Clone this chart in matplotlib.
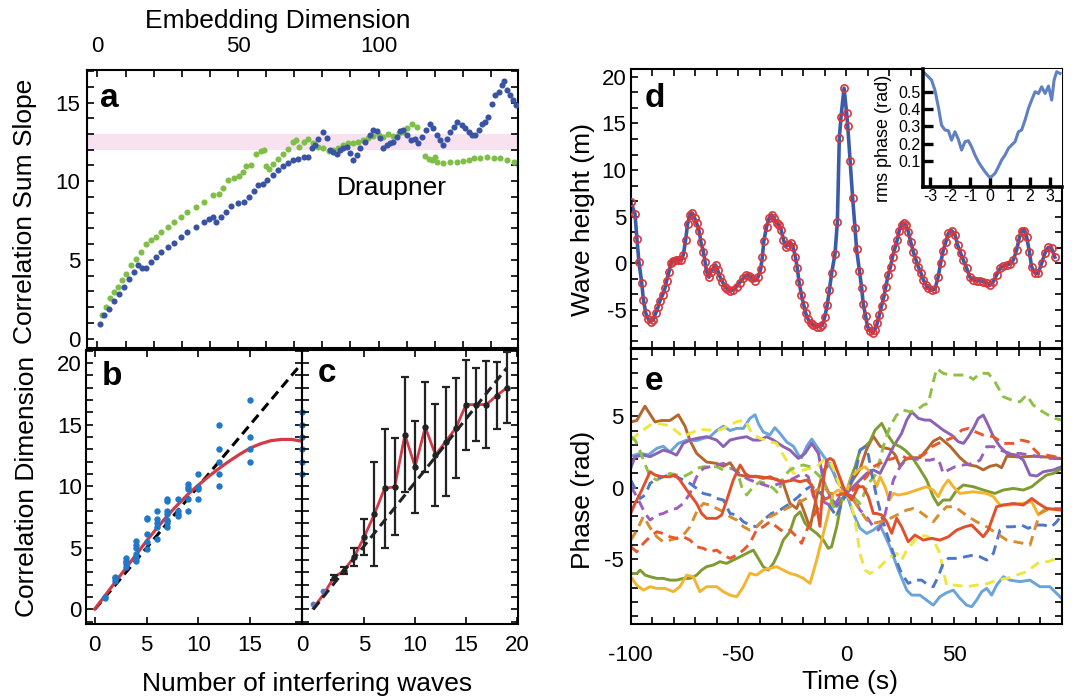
import matplotlib

matplotlib.use("Agg")
import matplotlib.pyplot as plt
from matplotlib.ticker import MultipleLocator, FixedLocator

plt.rcParams["font.family"] = ["Liberation Sans", "DejaVu Sans"]
plt.rcParams["axes.unicode_minus"] = False

# ---------------- panel a: correlation sum slope vs embedding dimension
a_blue_dim = [0.9, 2.4, 4.2, 6.0, 7.8, 9.5, 11.3, 13.1, 14.6, 16.0, 17.3, 19.0, 20.8, 22.6, 25.0, 27.3, 29.7, 32.0,
              35.0, 38.0, 39.8, 41.0, 42.2, 44.0, 45.7, 47.5, 49.9, 52.2, 54.0, 55.8, 57.0, 58.8, 60.5, 62.3, 64.1,
              65.9, 67.7, 69.4, 71.2, 73.6,
              75.0, 76.2, 77.4, 78.6, 80.4, 81.6, 82.7, 83.9, 85.1, 86.3, 87.5, 88.7, 89.9, 91.0, 92.2, 93.4, 95.2,
              97.0, 98.2, 99.6, 100.6, 101.7, 102.9, 104.1, 105.3, 106.5, 107.7, 108.8, 110.0, 111.5, 113.0, 114.2,
              115.4, 116.9, 118.3, 119.5, 120.7, 121.9, 123.1, 124.3, 125.5, 126.7, 127.8, 129.6, 130.8, 132.0,
              133.2, 134.4, 135.6, 136.7, 137.9, 139.1, 140.3, 141.5, 142.7, 143.9, 144.7, 145.7, 146.8, 147.8, 149.0]
a_blue_slope = [0.95, 1.5, 1.9, 2.4, 2.86, 3.3, 3.8, 4.2, 4.66, 4.5, 4.5, 4.87, 5.18, 5.5, 5.8, 6.1, 6.45, 6.78,
                7.1, 7.4, 7.6, 7.7, 7.4, 7.75, 8.05, 8.4, 8.6, 8.7, 9.0, 9.4, 9.75, 9.85, 10.05, 10.4, 10.7, 10.95,
                11.17, 11.34, 11.44, 11.55,
                11.55, 12.08, 12.29, 12.71, 13.1, 12.77, 11.97, 11.87, 11.76, 11.97, 12.08, 12.18, 11.8, 11.33, 11.65,
                12.08, 12.5, 12.92, 13.28, 13.2, 12.77, 12.08, 12.29, 12.4, 12.5, 12.82, 13.2, 13.28, 12.92, 12.6,
                12.71, 12.4, 12.82, 13.24, 13.66, 13.35, 12.92, 12.6, 12.29, 12.71, 13.13, 13.45, 13.77, 13.56, 13.35,
                13.13, 12.92, 12.92, 13.24, 13.66, 13.77, 14.08, 14.93, 15.46, 15.68, 16.1, 16.38, 15.79, 15.46,
                15.15, 14.83]
a_green_dim = [1.6, 3.0, 4.4, 6.0, 7.2, 8.7, 10.1, 11.9, 13.7, 15.5, 17.3, 19.0, 20.8, 22.6, 25.0, 27.3, 29.7, 32.0,
               35.0, 38.0, 41.0, 43.3, 44.5, 46.3, 48.7, 50.5, 51.7, 52.8, 54.6, 56.4, 58.2, 59.4, 60.0, 61.1, 62.3,
               64.1, 65.9, 67.7, 69.4, 70.6, 71.8, 73.6,
               75.0, 76.8, 78.6, 80.4, 82.2, 83.9, 85.7, 87.5, 89.3, 91.0, 92.8, 94.6, 96.4, 98.2, 100.0, 101.7,
               103.5, 105.3, 107.1, 108.8, 110.0, 111.8, 113.6, 116.6, 117.8, 119.0, 120.1, 120.7, 123.1, 125.5,
               127.8, 130.2, 132.0, 133.8, 136.1, 138.5, 140.9, 143.3, 145.7, 148.0, 149.8]
a_green_slope = [1.49, 2.0, 2.55, 2.97, 3.28, 3.7, 4.13, 4.66, 5.08, 5.5, 6.0, 6.25, 6.45, 6.78, 7.1, 7.42, 7.74,
                 8.05, 8.37, 8.7, 9.1, 9.2, 9.55, 10.06, 10.18, 10.3, 10.6, 10.95, 11.0, 11.7, 11.93, 11.97, 10.95,
                 10.8, 11.1, 11.44, 11.76, 12.07, 12.5, 12.6, 12.15, 12.5,
                 12.71, 12.4, 12.18, 12.08, 11.93, 11.97, 12.14, 12.29, 12.4, 12.44, 12.5, 12.6, 12.77, 12.86, 12.92,
                 12.82, 13.03, 12.86, 13.07, 13.13, 13.35, 13.66, 13.45, 11.59, 11.44, 11.33, 11.55, 11.23, 11.16,
                 11.23, 11.23, 11.27, 11.33, 11.48, 11.5, 11.55, 11.5, 11.5, 11.37, 11.23, 10.95]
a_band = [12.0, 13.0]

# ---------------- panel b: correlation dimension vs number of waves
b_n = [1, 1, 2, 2, 2, 3, 3, 3, 3, 3, 4, 4, 4, 4, 4, 4, 5, 5, 5, 5, 5, 6, 6, 6, 6, 6, 7, 7, 7, 7, 7, 7, 7,
       8, 8, 8, 8, 9, 9, 9, 9, 9, 10, 10, 10, 10, 12, 12, 12, 12, 12, 15, 15, 15, 15, 20, 20, 20, 20, 20, 20]
b_dim = [1.03, 0.93, 2.67, 2.56, 2.34, 4.19, 3.97, 3.84, 3.65, 3.43, 5.52, 5.25, 5.01, 4.52, 4.19, 3.97,
         7.46, 7.32, 6.15, 5.47, 4.93, 7.97, 7.37, 7.02, 6.69, 5.74, 8.95, 8.79, 7.97, 7.78, 7.24, 7.02, 6.69,
         8.95, 7.97, 7.78, 7.56, 10.18, 9.96, 9.74, 8.95, 7.97, 10.97, 9.96, 9.74, 8.95,
         15.0, 13.0, 12.0, 11.0, 10.0, 17.0, 14.0, 13.0, 12.0, 16.0, 15.0, 14.0, 13.0, 12.0, 11.0]
b_fit_n = [0, 1, 2, 3, 4, 5, 6, 7, 8, 9, 10, 11, 12, 13, 14, 15, 16, 17, 18, 19, 20]
b_fit_dim = [0.03, 1.13, 2.24, 3.35, 4.45, 5.56, 6.6, 7.6, 8.5, 9.35, 10.1, 10.8, 11.45, 12.05, 12.6, 13.1,
             13.45, 13.7, 13.8, 13.8, 13.65]
b_ref_n = [0, 20]
b_ref_dim = [0, 20]

# ---------------- panel c: mean correlation dimension with error bars
c_n = list(range(20))
c_mean = [0.44, 1.52, 2.56, 3.16, 4.24, 5.88, 7.73, 9.82, 9.96, 14.18, 11.59, 14.8, 12.54, 13.63, 14.72,
          16.63, 16.63, 16.63, 17.36, 17.99]
c_err = [0, 0, 0.2, 0.3, 0.72, 1.5, 4.24, 4.8, 3.92, 4.65, 3.74, 3.63, 4.12, 4.42, 4.08, 3.65, 2.95, 3.5,
         2.72, 2.88]
c_fit = [0.1, 1.2, 2.56, 3.16, 4.24, 5.88, 7.73, 9.82, 9.96, 14.18, 11.59, 14.8, 12.54, 13.63, 14.72,
         16.63, 16.63, 16.63, 17.36, 17.99]
c_ref_n = [0, 19]
c_ref_dim = [0, 19.6]

# ---------------- panel d: wave height time series
d_time = [-100, -98, -97.1, -96.2, -94.9, -94.1, -93, -91.8, -90.6, -89.5, -88.4, -87.2, -86.4, -85.2, -84.1,
          -83.3, -82.2, -81.4, -80.2, -79, -77.9, -76.8, -75.6, -74.5, -73.6, -72.5, -71.4, -70.3, -69.4, -68.3,
          -67.4, -66.3, -65.5, -64.8, -63.7, -62.8, -61.7, -60.6, -59.7, -58.6, -57.5, -56.3, -55.1, -53.7, -52.5,
          -50.9, -49.4, -47.8, -46.3, -45, -43.6, -42.1, -40.8, -39.7, -38.9, -38.2, -36.9, -35.8, -34.6, -33.5,
          -32.3, -31.2, -30.2, -29.1, -28.1, -27, -25.8, -24.7, -23.6, -22.7, -21.9, -20.8, -19.7, -18.8, -17.6,
          -16.5, -15.3, -13.7, -12.2, -11, -9.9, -8.8, -7.8, -6.7, -5.2, -4.1, -3.2, -2.4, -1, 0.2, 0.7, 1.8, 3,
          4.1, 4.8, 6.1, 7.2, 7.9, 9, 9.9, 11, 12.3, 13.3, 14.4, 15.4, 16.4, 17.5, 18.4, 19.5, 20.6, 21.5, 22.6,
          23.7, 24.6, 25.7, 26.8, 27.7, 28.8, 29.9, 31.1, 32.4, 33.4, 34.7, 35.8, 37, 38.1, 39.6, 41.2, 42.7,
          43.8, 45, 46.3, 47.4, 48.9, 50.5, 51.7, 53.1, 54.3, 55.9, 57.4, 59, 60.5, 62.1, 63.6, 65.2, 66.7, 68.3,
          69.8, 71.4, 72.9, 74.5, 76, 77.6, 79.1, 80.3, 81.4, 82.5, 83.7, 85, 86, 87.6, 89.1, 90.7, 92.2, 93.8,
          95.3, 96.8]
d_height = [6.63, 5.3, 2.6, 0.2, -2.05, -3.9, -5.34, -6.0, -6.23, -6.05, -5.34, -4.63, -3.98, -3.38, -2.66,
            -1.84, -0.88, 0.0, 0.27, 0.38, 0.38, 0.38, 0.9, 2.52, 4.23, 5.2, 5.38, 4.84, 4.3, 3.52, 2.27, 1.27,
            0.2, -0.88, -1.48, -0.88, -0.52, -0.16, -0.7, -1.41, -1.95, -2.48, -2.77, -2.95, -2.84, -2.48, -2.05,
            -1.59, -1.23, -1.34, -1.59, -1.84, -1.41, -0.63, 0.73, 2.45, 3.95, 4.84, 5.2, 4.84, 4.3, 4.13, 3.59,
            2.52, 1.8, 1.98, 2.23, 1.8, 0.73, -0.52, -1.95, -3.38, -4.45, -5.34, -6.0, -6.41, -6.59, -6.77, -6.77,
            -6.59, -5.7, -4.45, -2.84, -0.98, 1.02, 4.41, 13.4, 15.74, 18.78, 16.1, 14.77, 10.98, 6.98, 3.77,
            1.55, -0.77, -2.66, -4.34, -5.63, -6.77, -7.2, -7.41, -7.13, -6.41, -5.52, -4.56, -3.56, -2.48, -1.23,
            -0.34, 0.73, 1.63, 2.52, 3.52, 4.13, 4.3, 4.13, 3.41, 2.34, 1.27, 0.38, -0.34, -1.05, -1.77, -2.3,
            -2.66, -2.84, -2.77, -1.41, 0.0, 1.38, 2.34, 3.24, 3.52, 3.06, 1.98, 1.09, 0.38, -0.52, -1.48, -1.77,
            -1.84, -1.88, -1.95, -2.13, -2.3, -1.95, -1.23, -0.52, -0.27, -0.16, -0.05, 0.38, 1.45, 2.7, 3.52,
            3.52, 2.88, 1.27, -0.34, -1.05, -1.05, 0.0, 1.09, 1.73, 1.63, 0.66]

# inset: rms phase
inset_phase = [-3.25, -3.08, -2.92, -2.75, -2.58, -2.42, -2.25, -2.08, -1.92, -1.75, -1.58, -1.42, -1.25, -1.08,
               -0.92, -0.75, -0.58, -0.42, -0.25, -0.08, 0.03, 0.25, 0.42, 0.58, 0.75, 0.92, 1.08, 1.25, 1.42,
               1.58, 1.75, 1.92, 2.08, 2.25, 2.42, 2.58, 2.75, 2.92, 3.08, 3.2, 3.33, 3.5]
inset_rms = [0.606, 0.587, 0.568, 0.51, 0.413, 0.307, 0.279, 0.275, 0.22, 0.269, 0.225, 0.163, 0.211, 0.217,
             0.182, 0.134, 0.095, 0.066, 0.038, 0.013, 0.005, 0.028, 0.066, 0.105, 0.134, 0.173, 0.192, 0.211,
             0.269, 0.279, 0.336, 0.404, 0.452, 0.5, 0.49, 0.529, 0.49, 0.533, 0.452, 0.568, 0.616, 0.606]

# ---------------- panel e: phases of the component waves
e_brown_t = [-100, -97.2, -93.4, -88.7, -85.7, -81.8, -77.9, -74.8, -72.5, -69.4, -64.8, -60.1, -57, -53.9, -50,
             -46.2, -41.6, -37, -32.3, -29.2, -26.1, -23, -21.5, -19.2, -16.8, -13.7, -10.6, -7.5, -4.4, 0, 3.3,
             6.4, 9.5, 12.6, 15.7, 17.3, 20.3, 22.7, 25, 27.3, 29.6, 34.2, 38.1, 40.4, 43.5, 48.2, 52.8, 56.7,
             60.5, 63.6, 66.7, 69.8, 72.1, 74.5, 80.6, 86.8, 93, 99.2]
e_brown_v = [4.6, 4.7, 5.7, 4.6, 4.7, 4.7, 5.1, 4.3, 3.3, 2.4, 1.8, 1.7, 1.5, 1.75, 0.9, 0.8, 0.8, 0.7, 0.6, 0.3,
             -1.1, -1.45, -0.9, -1.8, -2.8, -0.6, 1.2, 1.7, 0.5, -0.4, 0.6, 1.3, 2.7, 3.6, 2.9, 2.8, 2.7, 2.3,
             1.5, 1.95, 2.1, 2.1, 2.8, 3.25, 3.5, 2.9, 2.1, 1.6, 1.5, 1.25, 1.5, 1.6, 1.4, 2.2, 2.15, 2.2, 2.15,
             2.05]
e_lblue_t = [-100, -95.6, -91.8, -87.9, -84.9, -81.8, -77.9, -74, -69.4, -66.3, -63.2, -60.1, -57, -53.9, -50.8,
             -47.7, -44.7, -42.3, -40.8, -38.5, -35.4, -33.1, -30.7, -27.6, -24.5, -22.2, -20.7, -18.3, -16,
             -13.7, -11.4, -9.1, -6, -3.7, -2.1, 0, 3.3, 6.4, 9.5, 12.6, 15.7, 20.3, 24.2, 28.1, 30.4, 34.2, 37.3,
             40.4, 43.5, 46.6, 49.7, 52.8, 55.9, 58.2, 60.5, 62.9, 65.2, 67.5, 69.8, 72.9, 75.9, 80.6, 85.2, 89.9,
             94.5, 100]
e_lblue_v = [2.2, 2.4, 2.3, 2.75, 2.9, 2.5, 3.1, 3.33, 3.3, 3.45, 3.57, 4.0, 4.3, 4.0, 4.15, 4.15, 4.85, 5.1,
             4.5, 3.9, 3.7, 4.2, 3.8, 3.2, 2.9, 2.3, 2.1, 2.9, 3.4, 2.9, 2.4, 1.9, 1.1, 0.3, 0.1, -0.4, -1.8,
             -2.84, -3.2, -2.96, -2.6, -4.13, -5.76, -7.16, -7.51, -7.51, -7.86, -8.21, -7.62, -7.34, -7.16,
             -7.74, -8.21, -8.32, -7.86, -7.27, -7.04, -7.51, -6.81, -6.22, -6.46, -6.57, -6.46, -6.92, -6.92,
             -7.74]
e_purple_t = [-100, -98, -94.1, -91, -87.9, -84.9, -81.8, -78.7, -75.6, -72.5, -69.4, -64.8, -60.1, -57, -53.9,
              -50.8, -46.2, -43.1, -40, -36.9, -33.8, -29.2, -26.1, -22.2, -19.1, -16, -12.9, -10.6, -7.5, -4.4,
              0, 3.3, 6.4, 9.5, 12.6, 15.7, 18.8, 21.9, 25.7, 28.1, 30.4, 33.5, 36.6, 38.9, 42, 45, 48.9, 52,
              54.4, 56.7, 59, 61.3, 63.6, 65.9, 68.3, 71.4, 74.5, 79.1, 82.2, 85.3, 88.4, 91.5, 96.1, 100]
e_purple_v = [1.35, 2.17, 2.28, 2.17, 2.4, 2.63, 2.5, 2.28, 3.1, 3.33, 3.45, 3.57, 3.33, 2.87, 3.33, 3.45, 3.57,
              3.33, 3.33, 3.57, 3.33, 2.87, 2.63, 2.05, 2.4, 3.1, 2.4, 0.5, -0.6, -1.3, -0.4, 0.07, 0.54, 1.0,
              1.24, 1.0, 1.93, 2.87, 3.8, 4.73, 5.31, 4.85, 4.73, 4.73, 4.38, 4.03, 3.68, 3.22, 3.1, 3.57, 4.15,
              4.85, 5.08, 4.38, 3.57, 2.87, 2.4, 2.28, 1.93, 0.89, 0.82, 1.12, 1.24, 1.47]
e_red_t = [-100, -98, -95.6, -91, -88.7, -85.7, -81.8, -79.5, -77.2, -74, -71.7, -69.4, -67.1, -64.8, -60.1,
           -57.8, -55.4, -52.4, -49.2, -46.9, -44.7, -41.6, -38.5, -35.4, -32.3, -28.5, -24.5, -21.4, -18.3, -16,
           -13.7, -12.2, -10.6, -9.1, -7.5, -5.9, -3.7, -1.3, 0, 2.6, 5.6, 7.9, 10.3, 12.6, 14.1, 16.5, 18.8,
           21.1, 23.4, 25.7, 28.8, 31.9, 35.8, 39.7, 43.5, 47.4, 51.3, 55.1, 58.2, 60.5, 63.6, 65.9, 69.8, 72.9,
           77.6, 82.2, 86.1, 89.2, 93, 100]
e_red_v = [-1.8, -1.1, -0.4, 1.12, 0.89, 0.77, 0.77, 0.89, 0.54, -0.16, -0.63, -1.1, -1.8, -2.14, -2.14, -1.91,
           -0.86, 0.54, 1.59, 1.0, 0.77, 0.77, 0.65, 0.77, 0.54, 0.42, 0.54, 0.42, 0.54, 0.19, -1.33, -2.7, 0.5,
           1.9, 2.05, 1.9, 1.0, 0.07, -0.4, -0.86, 0.07, 0.07, -0.63, -1.8, -1.8, -1.91, -2.38, -3.19, -2.14,
           -2.73, -3.78, -3.31, -3.66, -3.54, -3.66, -3.43, -2.96, -2.73, -2.61, -2.96, -3.43, -2.96, -1.33,
           -1.21, -1.1, -1.21, -0.75, -1.1, -1.45, -1.56]
e_olive_t = [-100, -97.2, -95.6, -93.3, -91, -87.9, -84.9, -81.8, -78.7, -75.6, -72.5, -69.4, -67.1, -64.8, -61.6,
             -58.6, -55.5, -52.4, -49.3, -46.2, -43.1, -40.8, -38.5, -36.2, -33.8, -31.5, -29.2, -26.1, -23.8,
             -21.4, -19.1, -16.8, -13.7, -10.6, -8.3, -6.8, -4.4, -2.1, 0, 1.8, 4.1, 6.4, 8.7, 11, 13.4, 16.5,
             18.8, 21.9, 25, 27.3, 30.4, 33.5, 37.3, 40.4, 42.7, 45, 48.2, 51.3, 54.4, 59, 63.6, 69, 72.9, 77.6,
             82.2, 86.1, 89.9, 93, 96.1, 100]
e_olive_v = [-6.0, -6.0, -5.76, -6.11, -6.22, -6.34, -6.34, -6.46, -6.46, -6.34, -6.34, -6.11, -5.76, -5.52,
             -5.4, -5.17, -5.29, -5.06, -4.83, -4.59, -4.36, -4.94, -5.52, -5.76, -5.29, -4.59, -3.66, -3.08,
             -2.03, -1.68, -2.49, -2.84, -3.19, -3.66, -4.24, -4.13, -2.73, -0.86, -0.4, 0.54, 1.47, 2.63, 2.87,
             3.22, 4.03, 4.5, 3.8, 3.1, 2.87, 2.63, 2.17, 1.47, 0.54, -0.63, -1.21, -0.86, -0.86, -0.16, 0.19,
             0.07, -0.16, -0.4, -0.16, -0.05, -0.16, 0.07, 0.54, 0.89, 1.0, 1.35]
e_orange_t = [-100, -97.2, -94.1, -91, -87.9, -84.1, -80.2, -77.2, -74, -71, -67.9, -64.8, -60.1, -57, -53.9,
              -50.8, -47.7, -44.7, -41.6, -38.5, -35.4, -32.3, -29.2, -26.1, -23, -19.9, -16.8, -13.7, -10.6,
              -8.3, -6, -3.7, 0, 2.6, 5.6, 8.7, 11.8, 14.1, 15.7, 18, 20, 21.9, 24.2, 28.1, 32.7, 37.3, 40.4,
              42.7, 45, 47.4, 49.7, 52.8, 59, 65.2, 68.3, 71.4, 76, 81.4, 86.1, 89.2, 92.2, 96.1, 100]
e_orange_v = [-6.22, -6.81, -7.16, -6.92, -7.04, -7.04, -7.27, -6.92, -6.11, -6.22, -7.27, -6.92, -6.92, -7.27,
              -7.51, -7.62, -6.92, -5.99, -6.11, -5.76, -5.64, -5.52, -5.76, -5.99, -6.11, -6.34, -6.69, -5.06,
              -3.19, -1.8, -0.4, -0.16, -0.4, 0.77, 1.24, 1.47, 1.0, 0.07, 0.77, 0.07, -0.86, -0.4, -0.51, -0.4,
              -0.16, 0.07, -0.16, -0.63, 0.07, 0.54, 0.07, -0.4, -0.28, -0.4, -0.63, -1.21, -1.21, -1.1, -0.98,
              -1.91, -1.45, -1.5, -1.56]
e_yellow_t = [-100, -96.4, -91, -87.9, -83.3, -79.5, -75.6, -72.5, -67.9, -63.2, -58.6, -55.5, -50.8, -46.9,
              -43.8, -40, -35.4, -32.3, -29.2, -26.9, -24.5, -22.2, -19.9, -16.8, -13.7, -10.6, -7.5, -5.2, -2.9,
              0, 1.9, 4.1, 6.4, 8.7, 11, 14.1, 17.2, 20.3, 23.4, 25.7, 28.1, 31.9, 35, 38.1, 41.2, 43.5, 45, 46.6,
              50.5, 55.9, 60.5, 65.9, 69.8, 74.5, 79.1, 83.7, 86.8, 89.9, 93.8, 97.7, 100]
e_yellow_v = [3.33, 3.8, 4.38, 4.5, 4.38, 4.03, 3.57, 3.8, 4.08, 4.03, 4.03, 4.27, 4.62, 4.73, 3.8, 3.45, 3.22,
              3.1, 2.3, 1.7, 1.0, 1.12, 1.24, 1.35, 1.47, 1.93, 1.82, 1.12, 0.07, -0.4, -0.86, -2.26, -4.59, -5.76,
              -5.99, -5.76, -5.29, -4.83, -4.59, -5.06, -4.36, -3.66, -3.31, -3.43, -3.89, -4.59, -5.76, -6.81,
              -6.81, -6.92, -6.81, -6.69, -6.46, -6.34, -6.11, -5.87, -5.52, -5.17, -5.17, -4.94, -4.83]
e_green_t = [-100, -98, -96.4, -94.1, -91, -87.9, -84.9, -81.8, -78.7, -75.6, -72.5, -69.4, -66.3, -63.2, -60.1,
             -57, -53.9, -50.8, -48.5, -46.2, -43.1, -40, -36.9, -33.8, -31.5, -29.2, -26.1, -23, -19.9, -16.8,
             -13.7, -10.6, -7.5, -4.4, -2.1, 0, 3.3, 6.4, 10.3, 14.1, 17.2, 20.3, 23.4, 26.5, 29.6, 32.7, 35.8,
             38.1, 40.4, 42, 45, 48.2, 52, 55.9, 59, 62.1, 65.9, 69, 72.9, 76.8, 80.6, 83.7, 86.8, 89.9, 93.8,
             96.9, 100]
e_green_v = [3.57, 3.33, 2.87, 1.93, 0.77, 0.54, 0.77, 1.0, 0.89, 0.77, 1.0, 1.35, 1.47, 1.47, 1.47, 1.24, 1.35,
             1.24, 0.07, -0.51, 0.07, 0.42, 0.3, -0.05, -0.4, 0.77, 1.24, 1.47, 1.59, 1.47, 1.0, 0.54, -0.63,
             -1.91, -1.1, -0.4, -0.63, -1.1, 0.3, 1.0, 2.87, 4.27, 5.08, 5.43, 5.31, 5.43, 5.78, 5.9, 7.41, 8.34,
             8.0, 7.88, 7.88, 7.88, 7.58, 8.0, 8.0, 7.41, 6.36, 6.13, 6.0, 6.48, 5.78, 5.43, 5.08, 4.85, 4.73]
e_dpurple_t = [-100, -98, -95.6, -93.3, -91, -87.9, -84.9, -81.8, -78.7, -75.6, -72.5, -69.4, -66.3, -63.2,
               -60.1, -57, -53.9, -50.8, -47.7, -44.7, -40, -35.4, -30.7, -26.1, -23, -19.9, -17.6, -15.2, -12.2,
               -9.1, -6, -2.9, 0, 3.3, 6.4, 9.5, 12.6, 14.9, 17.2, 19.6, 21.9, 25, 28.1, 31.2, 35, 38.9, 42, 43.5,
               45, 47.4, 50.5, 54.4, 59, 62.1, 65.2, 68.3, 71.4, 76, 80.6, 85.2, 89.9, 94.5, 100]
e_dpurple_v = [0.07, -0.4, -1.1, -1.8, -2.26, -1.91, -1.8, -1.56, -1.45, -1.1, -0.4, 0.77, 1.35, 1.47, 1.59,
               1.7, 1.47, 1.12, 0.77, 0.54, 0.3, 0.07, 0.3, 0.54, 0.77, 1.0, 0.77, -0.63, -0.86, -1.1, -1.33,
               -0.63, -0.4, -0.63, -1.56, -2.03, -2.73, -2.96, -2.38, -0.86, 0.54, 1.47, 2.05, 2.05, 1.93, 1.93,
               2.05, 1.7, 1.0, 1.24, 1.47, 1.59, 1.7, 1.93, 2.87, 2.87, 2.63, 2.4, 2.4, 2.28, 2.17, 2.05, 2.05]
e_dblue_t = [-100, -98, -95.6, -93.3, -91, -87.9, -84.9, -81.8, -78.7, -75.6, -72.5, -69.4, -66.3, -63.2, -60.1,
             -57, -53.9, -50.8, -47.7, -44.7, -41.6, -38.5, -34.6, -30.7, -26.1, -22.2, -19.1, -16.8, -13.7,
             -10.6, -7.5, -4.4, -2.1, 0, 2.6, 4.9, 6.4, 8.7, 10.3, 11.8, 14.1, 16.5, 18.8, 21.9, 25.7, 28.8, 31.9,
             35, 38.1, 40.4, 42.7, 45, 47.4, 51.3, 55.1, 59, 62.1, 65.2, 68.3, 71.4, 74.5, 77.6, 81.4, 84.5, 87.6,
             91.5, 95.3, 97.7, 100]
e_dblue_v = [0.54, -0.05, -0.75, -0.51, 0.3, 0.65, 0.77, 0.89, 0.77, 0.54, 0.3, -0.05, -0.4, -0.51, -0.75,
             -0.86, -1.8, -1.91, -2.38, -2.61, -2.73, -2.26, -1.8, -1.56, -1.1, -0.63, -0.16, 0.07, -0.05, -0.63,
             -1.33, -2.03, -1.1, -0.4, 0.54, 1.47, 2.63, 2.87, 2.28, 1.0, -0.63, -2.03, -3.19, -4.59, -5.99,
             -6.69, -6.46, -6.46, -6.81, -6.92, -6.22, -5.29, -4.94, -4.94, -4.83, -4.71, -4.83, -5.06, -4.59,
             -2.96, -2.73, -2.73, -2.61, -2.84, -2.61, -2.61, -2.73, -2.38, -1.91]
e_dorange_t = [-100, -97.2, -94.1, -91, -87.9, -84.9, -81.8, -78.7, -75.6, -72.5, -69.4, -66.3, -63.2, -60.1,
               -57, -53.9, -50.8, -47.7, -44.7, -41.6, -38.5, -35.4, -32.3, -29.2, -26.1, -23, -19.9, -16.8,
               -13.7, -10.6, -7.5, -3.7, 0, 3.3, 6.4, 9.5, 12.6, 15.7, 18.8, 21.9, 25, 28.1, 31.2, 34.2, 37.3,
               40.4, 43.5, 46.6, 50.5, 53.5, 56.7, 60.5, 65.2, 69.8, 74.5, 78.3, 82.2, 85.3, 87.6, 89.9, 93, 96.9,
               100]
e_dorange_v = [-3.66, -3.0, -2.0, -2.8, -3.43, -3.78, -3.66, -3.54, -3.31, -2.73, -1.68, -1.1, -1.21, -1.45,
               -1.68, -2.03, -2.26, -2.73, -2.96, -2.73, -2.26, -2.03, -1.8, -1.56, -1.33, -1.1, -0.86, -0.63,
               -0.16, 0.07, -0.4, -0.4, -0.4, -0.86, -1.56, -2.26, -2.49, -2.38, -2.26, -2.03, -1.8, -1.56,
               -1.45, -1.68, -2.03, -2.38, -1.8, -1.33, -1.33, -1.68, -2.03, -2.38, -2.73, -3.19, -3.66, -3.78,
               -3.89, -4.01, -2.84, -1.8, -1.56, -1.45, -1.45]
e_dred_t = [-100, -97.2, -94.1, -91, -87.9, -84.9, -81.8, -78.7, -75.6, -72.5, -69.4, -66.3, -63.2, -60.1, -57,
            -53.9, -50.8, -47.7, -44.7, -41.6, -38.5, -35.4, -32.3, -29.2, -26.1, -23, -20.7, -18.3, -16, -13.7,
            -10.6, -7.5, -3.7, 0, 3.3, 6.4, 9.5, 12.6, 15.7, 18.8, 21.9, 25, 28.1, 31.9, 35.8, 39.7, 42.7, 46.6,
            50.5, 53.6, 56.7, 59.8, 63.6, 68.3, 72.9, 77.6, 81.4, 84.5, 86.8, 89.9, 93, 96.9, 100]
e_dred_v = [-4.13, -4.48, -3.89, -3.43, -3.08, -3.2, -3.43, -3.54, -3.43, -3.66, -4.13, -4.24, -4.48, -4.36,
            -4.71, -4.94, -4.71, -4.36, -3.89, -2.96, -2.73, -2.38, -2.73, -3.08, -2.96, -3.43, -3.89, -2.96,
            -2.26, -1.56, -0.86, -0.63, -0.51, -0.4, -0.16, 0.3, 0.77, 1.47, 1.7, 1.93, 2.05, 2.3, 2.05, 2.17,
            2.28, 2.87, 3.1, 3.33, 3.57, 4.03, 4.15, 3.92, 3.68, 3.57, 3.1, 3.1, 3.33, 3.22, 2.75, 2.28, 2.28,
            2.17, 1.93]

W, H = 1072, 698
TICK_FS = 16
LABEL_FS = 19
LETTER_FS = 24


def rect(left, top, right, bottom):
    return [left / W, 1 - bottom / H, (right - left) / W, (bottom - top) / H]


def style(ax, lw=1.5):
    for s in ax.spines.values():
        s.set_linewidth(lw)
    ax.tick_params(which="both", direction="in", top=True, right=True, bottom=True, left=True,
                   length=5, width=1.2, labelsize=TICK_FS, pad=4)


def letter(ax, x, y, s):
    ax.text(x, y, s, transform=ax.transAxes, fontsize=LETTER_FS, fontweight="bold", va="baseline", ha="left")


fig = plt.figure(figsize=(W / 100, H / 100), dpi=100)

# ---- a
ax_a = fig.add_axes(rect(87, 69.5, 518, 347.5))
style(ax_a)
ax_a.axhspan(a_band[0], a_band[1], color="#f8e2f0", lw=0, zorder=0)
ax_a.plot(a_green_dim, a_green_slope, "o", color="#7fbf48", ms=4.4, mew=0, zorder=2)
ax_a.plot(a_blue_dim, a_blue_slope, "o", color="#3953a4", ms=4.4, mew=0, zorder=3)
ax_a.set_xlim(-3.7, 149.6)
ax_a.set_ylim(-0.57, 17.1)
ax_a.xaxis.set_major_locator(FixedLocator([0, 50, 100]))
ax_a.xaxis.set_minor_locator(MultipleLocator(10))
ax_a.yaxis.set_major_locator(MultipleLocator(5))
ax_a.yaxis.set_minor_locator(MultipleLocator(1))
ax_a.tick_params(axis="x", labeltop=True, labelbottom=False, pad=9)
ax_a.tick_params(axis="y", pad=5)
ax_a.text(85.1, 9.15, "Draupner", fontsize=19, va="baseline", ha="left")
letter(ax_a, 0.03, 0.865, "a")

# ---- b
ax_b = fig.add_axes(rect(86, 349.5, 302, 623.5))
style(ax_b)
ax_b.plot(b_ref_n, b_ref_dim, color="black", lw=2.2, ls=(0, (3.2, 1.8)), zorder=2)
ax_b.plot(b_fit_n, b_fit_dim, color="#d23a48", lw=2.3, zorder=3)
ax_b.plot(b_n, b_dim, "o", color="#1f78c8", ms=4.6, mew=0, zorder=4, clip_on=False)
ax_b.set_xlim(-0.84, 20)
ax_b.set_ylim(-1.14, 21.1)
ax_b.set_xticks([0, 5, 10, 15, 20])
ax_b.set_xticklabels(["0", "5", "10", "15", "0"])
ax_b.yaxis.set_major_locator(MultipleLocator(5))
ax_b.yaxis.set_minor_locator(MultipleLocator(1))
ax_b.tick_params(axis="x", pad=8)
ax_b.tick_params(axis="y", pad=3)
letter(ax_b, 0.075, 0.87, "b")

# ---- c (transparent so the b points on the shared edge stay visible)
ax_c = fig.add_axes(rect(302, 349.5, 518, 623.5))
ax_c.patch.set_alpha(0)
style(ax_c)
ax_c.plot(c_n, c_fit, color="#d23a48", lw=2.0, zorder=2)
ax_c.errorbar(c_n[2:], c_mean[2:], yerr=c_err[2:], fmt="o", color="#222222", ms=3.6,
              elinewidth=1.6, capsize=3.2, capthick=1.6, zorder=3)
ax_c.plot(c_n[:2], c_mean[:2], "o", color="#5a78c2", ms=4.2, mew=0, zorder=3)
ax_c.plot(c_ref_n, c_ref_dim, color="#222222", lw=2.2, ls=(0, (3.2, 1.8)), zorder=4)
ax_c.set_xlim(-1.1, 20.1)
ax_c.set_ylim(-1.14, 21.1)
ax_c.set_xticks([5, 10, 15, 20])
ax_c.yaxis.set_major_locator(MultipleLocator(5))
ax_c.yaxis.set_minor_locator(MultipleLocator(1))
ax_c.tick_params(axis="x", pad=8)
ax_c.tick_params(axis="y", labelleft=False)
letter(ax_c, 0.074, 0.882, "c")

# ---- d
ax_d = fig.add_axes(rect(630.7, 69.3, 1061.7, 348.3))
style(ax_d)
ax_d.plot(d_time, d_height, color="#3b5ba9", lw=2.6, zorder=2)
ax_d.plot(d_time, d_height, "o", mfc="none", mec="#d8373d", ms=5.2, mew=1.2, zorder=3)
ax_d.set_xlim(-100, 100)
ax_d.set_ylim(-9.1, 20.8)
ax_d.xaxis.set_major_locator(MultipleLocator(50))
ax_d.xaxis.set_minor_locator(MultipleLocator(10))
ax_d.yaxis.set_major_locator(MultipleLocator(5))
ax_d.yaxis.set_minor_locator(MultipleLocator(5 / 3))
ax_d.tick_params(axis="x", labelbottom=False)
ax_d.tick_params(axis="y", pad=3)
letter(ax_d, 0.033, 0.866, "d")

# inset
ax_in = fig.add_axes(rect(923.3, 69.3, 1061.7, 186.7))
ax_in.set_facecolor("white")
ax_in.plot(inset_phase, inset_rms, color="#5f80c2", lw=2.2)
ax_in.set_xlim(-3.33, 3.58)
ax_in.set_ylim(-0.049, 0.63)
for side in ("top", "right"):
    ax_in.spines[side].set_visible(False)
for side in ("left", "bottom"):
    ax_in.spines[side].set_linewidth(2.6)
ax_in.set_xticks([-3, -2, -1, 0, 1, 2, 3])
ax_in.set_yticks([0.1, 0.2, 0.3, 0.4, 0.5])
ax_in.tick_params(direction="in", length=7, width=2.4, labelsize=11.5, pad=2)
fig.text(883.5 / W, 1 - 138 / H, "rms phase (rad)", rotation=90, fontsize=13, ha="center", va="center")

# ---- e
ax_e = fig.add_axes(rect(630.7, 349.3, 1061.7, 624.3))
style(ax_e)
e_lines = [
    (e_brown_t, e_brown_v, "#b4672c", "-"),
    (e_lblue_t, e_lblue_v, "#6aa4d9", "-"),
    (e_purple_t, e_purple_v, "#8b62b6", "-"),
    (e_olive_t, e_olive_v, "#7f9b32", "-"),
    (e_orange_t, e_orange_v, "#f3b42f", "-"),
    (e_yellow_t, e_yellow_v, "#eee63f", "--"),
    (e_green_t, e_green_v, "#8dc045", "--"),
    (e_dpurple_t, e_dpurple_v, "#9b60bb", "--"),
    (e_dblue_t, e_dblue_v, "#4e77c7", "--"),
    (e_dorange_t, e_dorange_v, "#d98b2f", "--"),
    (e_dred_t, e_dred_v, "#e8582f", "--"),
    (e_red_t, e_red_v, "#e0502d", "-"),
]
for t, v, col, ls in e_lines:
    style_ls = "-" if ls == "-" else (0, (3.4, 2.2))
    ax_e.plot(t, v, color=col, lw=2.1, ls=style_ls)
ax_e.set_xlim(-100, 100)
ax_e.set_ylim(-9.55, 9.68)
ax_e.set_xticks([-100, -50, 0, 50])
ax_e.xaxis.set_minor_locator(MultipleLocator(10))
ax_e.yaxis.set_major_locator(MultipleLocator(5))
ax_e.yaxis.set_minor_locator(MultipleLocator(1))
ax_e.tick_params(axis="x", pad=15)
ax_e.tick_params(axis="y", pad=5)
letter(ax_e, 0.033, 0.852, "e")

# ---- axis labels
fig.text(277.5 / W, 1 - 21 / H, "Embedding Dimension", fontsize=LABEL_FS, ha="center", va="center")
fig.text(25 / W, 1 - 211 / H, "Correlation Sum Slope", fontsize=LABEL_FS, rotation=90, ha="center", va="center")
fig.text(27 / W, 1 - 486 / H, "Correlation Dimension", fontsize=LABEL_FS, rotation=90, ha="center", va="center")
fig.text(307 / W, 1 - 684 / H, "Number of interfering waves", fontsize=LABEL_FS, ha="center", va="center")
fig.text(583 / W, 1 - 220 / H, "Wave height (m)", fontsize=LABEL_FS, rotation=90, ha="center", va="center")
fig.text(583 / W, 1 - 500 / H, "Phase (rad)", fontsize=LABEL_FS, rotation=90, ha="center", va="center")
fig.text(850 / W, 1 - 682.5 / H, "Time (s)", fontsize=LABEL_FS, ha="center", va="center")

fig.savefig("out.png", dpi=100)
plt.close(fig)
